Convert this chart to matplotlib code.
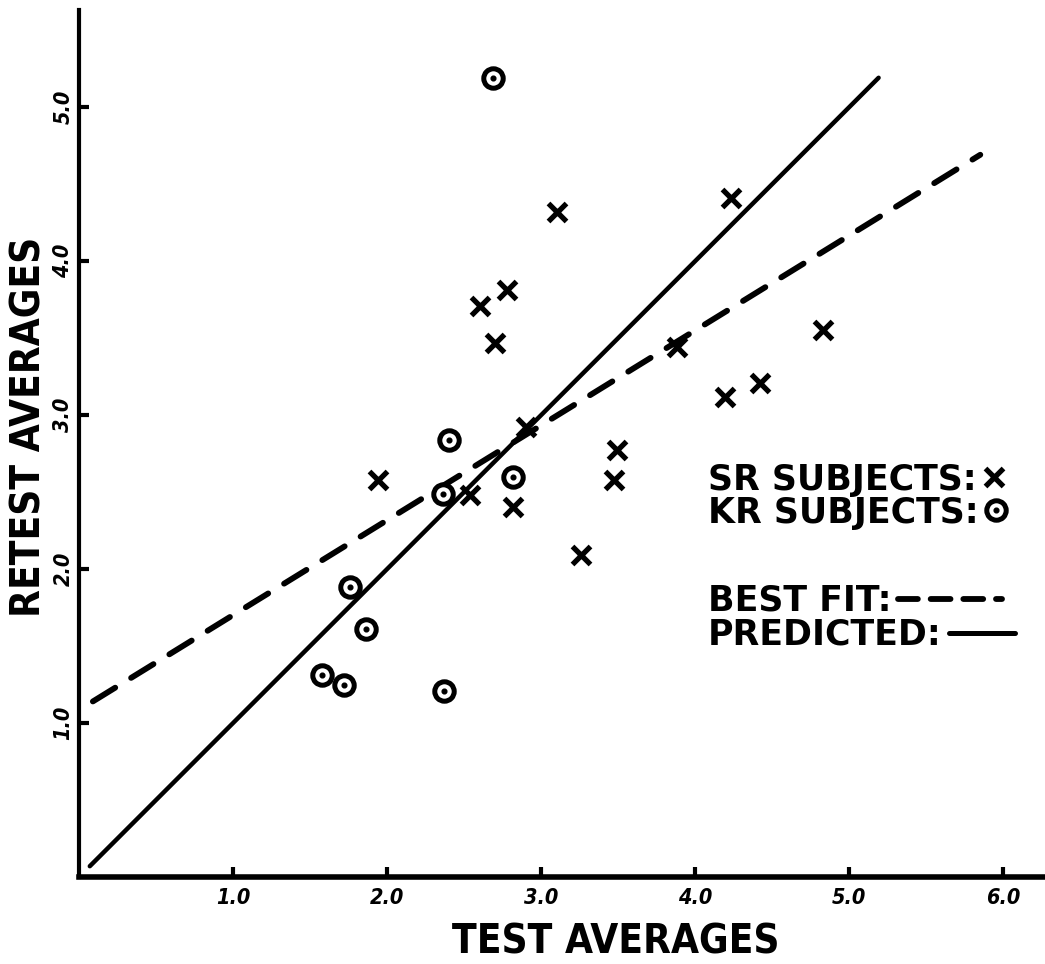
import matplotlib
matplotlib.use("Agg")
import matplotlib.pyplot as plt
from matplotlib.lines import Line2D
from matplotlib.legend import Legend

# SR subjects (crosses): test average vs retest average
sr_test = [3.10, 2.78, 2.60, 2.70, 4.23, 3.88, 4.83, 4.42, 4.19,
           2.90, 1.94, 2.54, 2.82, 3.49, 3.47, 3.26]
sr_retest = [4.32, 3.81, 3.71, 3.47, 4.41, 3.44, 3.55, 3.21, 3.12,
             2.92, 2.58, 2.48, 2.40, 2.77, 2.58, 2.09]

# KR subjects (dotted circles)
kr_test = [2.69, 2.40, 2.36, 2.82, 1.76, 1.86, 1.58, 1.72, 2.37]
kr_retest = [5.19, 2.84, 2.49, 2.60, 1.88, 1.61, 1.31, 1.25, 1.21]

# Best-fit line and predicted (identity) line end points
fit_x = [0.09, 5.85]
fit_y = [1.14, 4.69]
pred_x = [0.07, 5.19]
pred_y = [0.07, 5.19]

x_ticks = [1, 2, 3, 4, 5, 6]
x_tick_labels = ["1.0", "2.0", "3.0", "4.0", "5.0", "6.0"]
y_ticks = [1, 2, 3, 4, 5]
y_tick_labels = ["1.0", "2.0", "3.0", "4.0", "5.0"]

FAM = "DejaVu Sans"
tick_font = dict(family=FAM, weight="bold", style="italic", size=15.5, stretch="condensed")
label_font = dict(family=FAM, weight="bold", size=29, stretch="condensed")
key_font = dict(family=FAM, weight="bold", size=25)

fig = plt.figure(figsize=(10.45, 9.64), dpi=100)
ax = fig.add_axes([79 / 1045, 87 / 964, 966 / 1045, 867 / 964])
ax.set_xlim(0, 6.27)
ax.set_ylim(0, 5.63)

for side in ("top", "right"):
    ax.spines[side].set_visible(False)
ax.spines["bottom"].set_linewidth(4)
ax.spines["left"].set_linewidth(3)

# fitted and predicted lines
ax.plot(fit_x, fit_y, color="black", lw=4.2, dashes=(4.5, 3.2),
        dash_capstyle="round", solid_capstyle="round")
ax.plot(pred_x, pred_y, color="black", lw=3.2, solid_capstyle="round")

# markers
ax.plot(sr_test, sr_retest, ls="none", marker="x", ms=13.5, mew=3.8, color="black")
ax.plot(kr_test, kr_retest, ls="none", marker="o", ms=14, mfc="white",
        mec="black", mew=3.6)
ax.plot(kr_test, kr_retest, ls="none", marker="o", ms=3.4, color="black")

ax.set_xticks(x_ticks)
ax.set_xticklabels(x_tick_labels, fontdict=tick_font)
ax.set_yticks(y_ticks)
ax.set_yticklabels(y_tick_labels, fontdict=tick_font, rotation=90, va="center")
ax.tick_params(axis="both", direction="in", length=7, width=3, color="black")
ax.tick_params(axis="x", pad=8)
ax.tick_params(axis="y", pad=4)

ax.set_xlabel("TEST AVERAGES", fontdict=label_font)
ax.xaxis.set_label_coords(0.556, -0.075)
ax.xaxis.label.set_va("center")
ax.set_ylabel("RETEST AVERAGES", fontdict=label_font)
ax.yaxis.set_label_coords(-0.051, 0.519)
ax.yaxis.label.set_va("center")

# key entries: label followed by its symbol
sr_key = Line2D([], [], ls="none", marker="x", ms=13, mew=3.8, color="black")
kr_ring = Line2D([], [], ls="none", marker="o", ms=14, mfc="white", mec="black", mew=3.6)
kr_dot = Line2D([], [], ls="none", marker="o", ms=3.4, color="black")
fit_key = Line2D([], [], color="black", lw=4.2, dashes=(3.4, 2.2), dash_capstyle="round")
pred_key = Line2D([], [], color="black", lw=3.6, solid_capstyle="round")

entries = [
    (sr_key, "SR SUBJECTS:", 0.478, 0.6),
    ((kr_ring, kr_dot), "KR SUBJECTS:", 0.440, 0.6),
    (fit_key, "BEST FIT:", 0.338, 3.0),
    (pred_key, "PREDICTED:", 0.299, 1.9),
]
for handle, text, ytop, hlen in entries:
    leg = Legend(ax, [handle], [text], loc="upper left",
                 bbox_to_anchor=(0.651, ytop), bbox_transform=ax.transAxes,
                 frameon=False, markerfirst=False, borderpad=0, borderaxespad=0,
                 handlelength=hlen, handletextpad=0.2, prop=key_font)
    ax.add_artist(leg)

fig.savefig("out.png", dpi=100, facecolor="white")
